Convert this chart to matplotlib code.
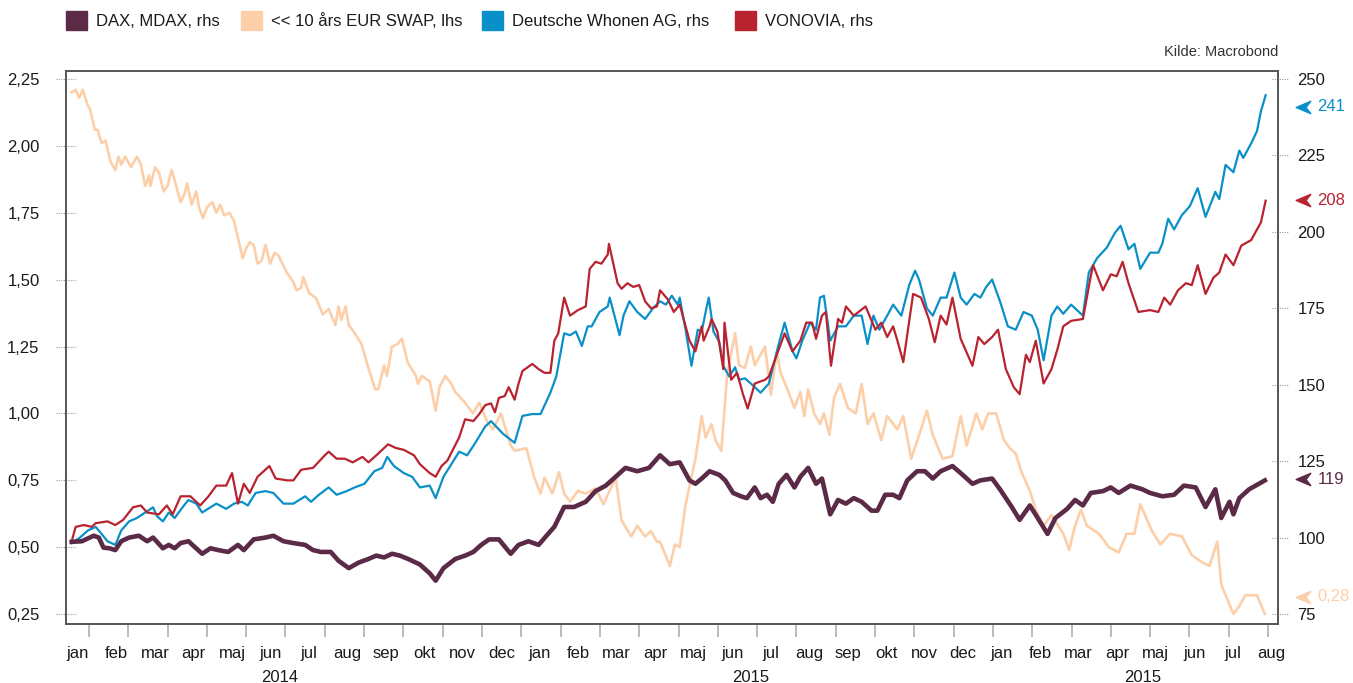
import numpy as np
import matplotlib.pyplot as plt
import matplotlib.transforms as mtransforms
from matplotlib.path import Path
from matplotlib.patches import Rectangle

plt.rcParams['font.family'] = ['Liberation Sans', 'DejaVu Sans']

# x = months since 1 jan 2014
swap = np.array([
    (0.56, 2.20), (0.66, 2.21), (0.75, 2.18), (0.84, 2.21), (0.97, 2.15), (1.02, 2.14), (1.15, 2.06), (1.22, 2.06),
    (1.32, 2.01), (1.42, 2.02), (1.55, 1.94), (1.67, 1.91), (1.75, 1.96), (1.82, 1.93), (1.92, 1.96), (2.07, 1.92),
    (2.22, 1.96), (2.32, 1.93), (2.43, 1.85), (2.53, 1.89), (2.56, 1.85), (2.68, 1.92), (2.78, 1.90), (2.90, 1.83),
    (3.00, 1.85), (3.10, 1.91), (3.20, 1.86), (3.33, 1.79), (3.43, 1.82), (3.50, 1.86), (3.61, 1.78), (3.73, 1.83),
    (3.80, 1.77), (3.90, 1.73), (4.00, 1.77), (4.14, 1.79), (4.24, 1.75), (4.34, 1.78), (4.44, 1.74), (4.57, 1.75),
    (4.69, 1.72), (4.91, 1.58), (5.01, 1.62), (5.09, 1.64), (5.19, 1.63), (5.29, 1.56), (5.39, 1.57), (5.49, 1.63),
    (5.61, 1.56), (5.72, 1.60), (5.82, 1.59), (6.02, 1.53), (6.20, 1.49), (6.28, 1.46), (6.40, 1.47), (6.45, 1.51),
    (6.60, 1.45), (6.78, 1.43), (6.95, 1.37), (7.10, 1.39), (7.27, 1.33), (7.35, 1.40), (7.42, 1.35), (7.53, 1.40),
    (7.61, 1.33), (7.76, 1.30), (7.93, 1.26), (8.09, 1.18), (8.28, 1.09), (8.36, 1.09), (8.51, 1.18), (8.58, 1.14),
    (8.71, 1.25), (8.86, 1.26), (8.96, 1.28), (9.11, 1.19), (9.32, 1.14), (9.37, 1.11), (9.47, 1.14), (9.67, 1.12),
    (9.82, 1.01), (9.92, 1.10), (10.07, 1.14), (10.22, 1.11), (10.32, 1.08), (10.57, 1.04), (10.77, 1.00), (10.93, 1.04),
    (11.13, 0.97), (11.28, 0.94), (11.48, 1.00), (11.73, 0.88), (11.83, 0.86), (12.13, 0.87), (12.33, 0.76), (12.49, 0.70),
    (12.59, 0.76), (12.79, 0.70), (12.96, 0.78), (13.09, 0.70), (13.24, 0.67), (13.44, 0.71), (13.64, 0.70), (13.89, 0.72),
    (14.09, 0.66), (14.40, 0.76), (14.55, 0.60), (14.80, 0.54), (14.95, 0.58), (15.15, 0.54), (15.30, 0.56), (15.45, 0.52),
    (15.53, 0.52), (15.78, 0.43), (15.91, 0.51), (16.03, 0.50), (16.18, 0.66), (16.43, 0.83), (16.59, 0.99), (16.69, 0.91),
    (16.84, 0.96), (16.94, 0.90), (17.09, 0.86), (17.24, 1.15), (17.44, 1.30), (17.54, 1.18), (17.69, 1.17), (17.84, 1.25),
    (17.94, 1.18), (18.20, 1.25), (18.35, 1.07), (18.50, 1.23), (18.60, 1.15), (18.80, 1.08), (18.95, 1.02), (19.10, 1.08),
    (19.20, 0.99), (19.30, 1.09), (19.45, 1.00), (19.60, 0.96), (19.70, 1.00), (19.84, 0.92), (19.96, 1.06), (20.11, 1.11),
    (20.31, 1.02), (20.51, 1.00), (20.66, 1.11), (20.81, 0.96), (20.96, 1.00), (21.16, 0.90), (21.31, 0.99), (21.57, 0.94),
    (21.72, 0.99), (21.92, 0.83), (22.17, 0.94), (22.32, 1.01), (22.47, 0.92), (22.72, 0.83), (22.97, 0.84), (23.18, 0.99),
    (23.33, 0.88), (23.58, 1.00), (23.73, 0.94), (23.88, 1.00), (24.08, 1.00), (24.28, 0.90), (24.43, 0.87), (24.58, 0.85),
    (24.73, 0.78), (24.94, 0.71), (25.09, 0.64), (25.29, 0.58), (25.49, 0.62), (25.79, 0.55), (25.94, 0.49), (26.09, 0.58),
    (26.24, 0.64), (26.39, 0.58), (26.70, 0.55), (26.95, 0.50), (27.20, 0.48), (27.40, 0.55), (27.60, 0.55), (27.75, 0.66),
    (28.05, 0.56), (28.26, 0.51), (28.51, 0.55), (28.81, 0.54), (29.06, 0.47), (29.36, 0.44), (29.51, 0.43), (29.71, 0.52),
    (29.81, 0.36), (30.12, 0.25), (30.27, 0.28), (30.42, 0.32), (30.72, 0.32), (30.92, 0.25),
])

dax = np.array([
    (0.56, 98.6), (0.82, 98.8), (1.12, 100.6), (1.25, 100.0), (1.37, 96.7), (1.52, 96.5), (1.67, 95.9), (1.82, 98.8),
    (2.02, 100.0), (2.27, 100.6), (2.48, 98.8), (2.63, 100.0), (2.88, 96.5), (3.03, 97.6), (3.18, 96.5), (3.33, 98.2),
    (3.53, 98.8), (3.88, 94.7), (4.09, 96.5), (4.29, 95.9), (4.54, 95.3), (4.79, 97.6), (4.94, 95.9), (5.19, 99.4),
    (5.49, 100.0), (5.69, 100.6), (5.95, 98.8), (6.20, 98.2), (6.50, 97.6), (6.70, 95.9), (6.90, 95.3), (7.15, 95.3),
    (7.35, 92.4), (7.61, 90.0), (7.86, 91.8), (8.11, 93.0), (8.31, 94.1), (8.51, 93.5), (8.71, 94.7), (8.91, 94.1),
    (9.12, 93.0), (9.42, 91.2), (9.67, 88.3), (9.82, 85.9), (10.02, 90.0), (10.32, 93.0), (10.57, 94.1), (10.78, 95.3),
    (10.98, 97.6), (11.18, 99.4), (11.43, 99.4), (11.73, 94.7), (11.93, 97.6), (12.18, 98.8), (12.44, 97.6), (12.64, 100.6),
    (12.84, 103.5), (13.09, 110.0), (13.34, 110.0), (13.64, 111.7), (13.89, 115.2), (14.15, 117.0), (14.35, 119.3), (14.65, 122.8),
    (14.95, 121.7), (15.25, 122.8), (15.53, 126.9), (15.78, 124.0), (16.03, 124.6), (16.28, 118.7), (16.43, 117.6), (16.59, 119.3),
    (16.79, 121.7), (17.04, 120.5), (17.19, 118.7), (17.39, 114.6), (17.59, 113.5), (17.74, 112.9), (17.94, 116.4), (18.09, 112.9),
    (18.25, 114.0), (18.40, 111.7), (18.55, 117.6), (18.75, 120.5), (18.95, 116.4), (19.10, 119.9), (19.30, 122.8), (19.50, 117.6),
    (19.65, 119.3), (19.86, 107.6), (20.06, 112.3), (20.26, 111.1), (20.46, 112.9), (20.66, 111.7), (20.91, 108.8), (21.06, 108.8),
    (21.26, 114.0), (21.46, 114.0), (21.62, 112.9), (21.82, 118.7), (22.07, 121.7), (22.27, 121.7), (22.47, 119.3), (22.67, 121.7),
    (22.97, 123.4), (23.18, 121.1), (23.48, 117.6), (23.68, 118.7), (23.98, 119.3), (24.18, 115.8), (24.48, 110.0), (24.68, 105.8),
    (24.94, 110.5), (25.14, 106.4), (25.39, 101.2), (25.59, 106.4), (25.89, 109.4), (26.09, 112.3), (26.29, 110.5), (26.49, 114.6),
    (26.80, 115.2), (27.00, 116.4), (27.20, 114.6), (27.50, 117.0), (27.80, 115.8), (28.00, 114.6), (28.31, 113.5), (28.61, 114.0),
    (28.86, 117.0), (29.16, 116.4), (29.41, 110.0), (29.66, 115.8), (29.81, 106.4), (30.02, 111.7), (30.12, 107.6), (30.27, 112.9),
    (30.52, 115.8), (30.77, 117.6), (30.92, 118.7),
])

dw = np.array([
    (0.56, 98.2), (0.77, 100.0), (0.97, 102.3), (1.17, 103.5), (1.32, 101.2), (1.47, 98.8), (1.67, 97.6), (1.82, 102.3),
    (2.02, 105.3), (2.22, 106.4), (2.43, 108.2), (2.63, 109.9), (2.73, 107.0), (2.88, 105.3), (3.03, 108.2), (3.18, 106.4),
    (3.38, 109.9), (3.53, 112.3), (3.73, 111.1), (3.88, 108.2), (4.09, 109.9), (4.24, 111.1), (4.49, 109.4), (4.69, 111.1),
    (4.89, 111.7), (5.04, 110.5), (5.24, 114.6), (5.49, 115.2), (5.69, 114.6), (5.95, 111.1), (6.20, 111.1), (6.50, 113.5),
    (6.65, 111.7), (6.85, 114.0), (7.10, 116.4), (7.30, 114.0), (7.56, 115.2), (7.76, 116.4), (8.01, 117.6), (8.26, 121.7),
    (8.46, 122.8), (8.59, 126.4), (8.76, 123.4), (9.01, 121.1), (9.22, 119.9), (9.42, 116.4), (9.67, 117.0), (9.82, 112.9),
    (10.02, 119.9), (10.22, 124.0), (10.42, 128.1), (10.62, 126.9), (10.83, 131.0), (11.08, 136.3), (11.23, 138.1), (11.53, 134.0),
    (11.83, 131.0), (12.03, 139.8), (12.28, 140.4), (12.49, 140.4), (12.74, 147.4), (12.89, 152.7), (13.09, 166.8), (13.24, 166.2),
    (13.39, 167.4), (13.54, 162.7), (13.69, 169.1), (13.79, 169.1), (13.99, 173.8), (14.20, 175.6), (14.25, 178.5), (14.50, 166.2),
    (14.60, 172.6), (14.75, 177.3), (14.95, 173.8), (15.15, 171.5), (15.35, 175.0), (15.53, 177.3), (15.68, 176.2), (15.83, 179.1),
    (15.98, 176.2), (16.03, 178.5), (16.18, 168.0), (16.33, 156.2), (16.49, 168.0), (16.59, 167.4), (16.69, 173.8), (16.77, 178.5),
    (16.89, 167.4), (17.04, 163.9), (17.14, 156.2), (17.29, 152.7), (17.44, 155.7), (17.54, 151.6), (17.69, 152.1), (17.84, 150.4),
    (18.09, 147.4), (18.30, 150.4), (18.55, 163.3), (18.70, 170.3), (18.90, 161.0), (19.00, 158.6), (19.15, 164.4), (19.35, 170.3),
    (19.50, 168.0), (19.60, 178.5), (19.70, 179.1), (19.86, 164.4), (20.06, 169.1), (20.26, 169.1), (20.46, 172.6), (20.66, 172.6),
    (20.81, 163.3), (20.96, 172.6), (21.11, 168.0), (21.31, 172.6), (21.46, 176.2), (21.67, 172.6), (21.87, 182.6), (22.02, 187.3),
    (22.12, 184.4), (22.32, 175.0), (22.47, 172.6), (22.67, 178.5), (22.82, 178.5), (23.02, 186.7), (23.18, 178.5), (23.33, 176.2),
    (23.53, 179.7), (23.68, 178.5), (23.83, 182.0), (23.98, 184.4), (24.18, 177.3), (24.38, 169.1), (24.58, 168.0), (24.78, 173.8),
    (24.99, 172.6), (25.14, 168.0), (25.29, 158.0), (25.49, 172.6), (25.64, 175.6), (25.79, 173.2), (25.99, 176.2), (26.29, 172.6),
    (26.44, 186.7), (26.65, 191.4), (26.90, 194.9), (27.10, 199.6), (27.25, 202.0), (27.45, 194.3), (27.60, 196.1), (27.75, 187.9),
    (28.00, 193.2), (28.21, 193.2), (28.31, 196.1), (28.46, 204.3), (28.61, 200.8), (28.81, 205.5), (29.01, 208.4), (29.21, 214.3),
    (29.41, 204.9), (29.66, 213.1), (29.76, 210.7), (29.92, 221.9), (30.12, 219.5), (30.27, 226.6), (30.37, 224.2), (30.57, 228.9),
    (30.72, 233.0), (30.82, 239.5), (30.94, 244.7),
])

vonovia = np.array([
    (0.56, 98.8), (0.66, 103.5), (0.87, 104.1), (1.07, 103.5), (1.17, 104.7), (1.47, 105.3), (1.67, 104.1), (1.87, 105.8),
    (2.12, 109.9), (2.32, 110.5), (2.48, 108.2), (2.78, 107.6), (2.98, 110.5), (3.13, 107.6), (3.33, 113.5), (3.58, 113.5),
    (3.83, 110.5), (4.04, 113.5), (4.24, 117.0), (4.49, 117.0), (4.64, 121.1), (4.79, 111.1), (4.94, 117.6), (5.09, 114.6),
    (5.29, 119.9), (5.59, 123.4), (5.75, 119.3), (6.05, 118.7), (6.20, 118.7), (6.40, 122.2), (6.70, 122.8), (7.00, 126.9),
    (7.10, 128.1), (7.30, 125.8), (7.51, 125.8), (7.71, 124.6), (7.96, 126.4), (8.11, 124.6), (8.31, 126.9), (8.61, 130.5),
    (8.81, 129.3), (9.01, 128.7), (9.27, 126.9), (9.42, 124.0), (9.67, 121.1), (9.82, 119.9), (9.97, 123.4), (10.12, 125.2),
    (10.42, 132.8), (10.57, 138.7), (10.78, 138.1), (10.93, 140.4), (11.08, 143.3), (11.23, 143.9), (11.33, 141.0), (11.43, 145.7),
    (11.58, 146.3), (11.68, 149.2), (11.83, 145.1), (11.93, 150.4), (12.03, 154.5), (12.28, 156.8), (12.44, 155.1), (12.59, 153.9),
    (12.74, 153.9), (12.84, 164.4), (12.94, 166.8), (13.09, 178.5), (13.24, 172.6), (13.44, 174.4), (13.64, 175.6), (13.74, 187.9),
    (13.89, 190.2), (14.04, 189.6), (14.20, 192.6), (14.23, 196.1), (14.45, 183.2), (14.55, 181.4), (14.70, 183.2), (14.85, 182.0),
    (15.00, 182.6), (15.15, 177.3), (15.30, 175.0), (15.45, 175.6), (15.53, 180.9), (15.73, 177.9), (15.88, 173.8), (16.03, 176.2),
    (16.18, 169.1), (16.28, 164.4), (16.43, 160.9), (16.59, 169.1), (16.64, 164.4), (16.79, 169.1), (16.84, 171.5), (16.99, 167.4),
    (17.14, 155.1), (17.17, 170.3), (17.34, 151.6), (17.49, 153.9), (17.64, 146.9), (17.76, 142.2), (17.94, 150.4), (18.20, 151.6),
    (18.30, 152.7), (18.45, 158.0), (18.70, 166.8), (18.90, 160.9), (19.10, 164.4), (19.25, 170.3), (19.40, 170.3), (19.50, 165.0),
    (19.65, 172.6), (19.75, 173.8), (19.88, 156.2), (20.06, 171.5), (20.16, 170.3), (20.26, 175.6), (20.46, 172.6), (20.76, 175.6),
    (21.01, 168.0), (21.16, 170.3), (21.31, 165.6), (21.46, 169.1), (21.57, 164.4), (21.72, 157.4), (21.97, 179.7), (22.17, 178.5),
    (22.37, 171.5), (22.52, 163.9), (22.67, 172.6), (22.82, 169.7), (22.97, 178.5), (23.18, 165.0), (23.48, 156.2), (23.63, 165.6),
    (23.78, 163.3), (23.98, 165.6), (24.13, 168.0), (24.33, 155.1), (24.53, 149.2), (24.68, 146.9), (24.84, 159.8), (24.94, 157.4),
    (25.09, 164.4), (25.29, 150.4), (25.49, 155.1), (25.64, 161.5), (25.79, 169.1), (25.99, 170.9), (26.29, 171.5), (26.49, 185.5),
    (26.55, 189.1), (26.80, 180.9), (27.00, 186.1), (27.15, 185.5), (27.30, 190.2), (27.45, 183.2), (27.70, 173.8), (28.00, 174.4),
    (28.21, 173.8), (28.36, 178.5), (28.51, 176.2), (28.71, 180.9), (28.91, 183.2), (29.06, 182.6), (29.21, 189.1), (29.41, 179.7),
    (29.61, 185.0), (29.76, 186.7), (29.92, 192.6), (30.12, 189.1), (30.32, 195.5), (30.57, 197.3), (30.72, 200.8), (30.82, 203.1),
    (30.94, 210.2),
])

month_names = ['jan', 'feb', 'mar', 'apr', 'maj', 'jun', 'jul', 'aug', 'sep', 'okt', 'nov', 'dec']
month_labels = month_names * 2 + month_names[:8]
year_labels = ['2014', '2015', '2015']
year_pos = [5.86, 17.84, 27.82]
left_ticks = [0.25, 0.50, 0.75, 1.00, 1.25, 1.50, 1.75, 2.00, 2.25]
right_ticks = [75, 100, 125, 150, 175, 200, 225, 250]

# end-of-series labels: text, shown value, nudge in points
end_labels = {'dax': ('119', 119, 0), 'swap': ('0,28', 0.28, 6.5),
              'dw': ('241', 241, 0), 'von': ('208', 208, 5)}

C_DAX = '#5B2A47'
C_SWAP = '#FDCFA9'
C_DW = '#0A90C8'
C_VON = '#B8232F'
SPINE = '#555555'
TXT = '#1a1a1a'
FS = 12

fig = plt.figure(figsize=(13.53, 6.83), dpi=100)
ax = fig.add_axes([66 / 1353, 1 - 624 / 683, 1212 / 1353, 553 / 683])
ax2 = ax.twinx()

ylo, yhi = 0.2126, 2.28
ax.set_ylim(ylo, yhi)
ax2.set_ylim(75 + (ylo - 0.25) * 87.5, 75 + (yhi - 0.25) * 87.5)
ax.set_xlim(0.415, 31.254)

ax.plot(swap[:, 0], swap[:, 1], color=C_SWAP, lw=1.9, solid_joinstyle='round')
ax2.plot(dw[:, 0], dw[:, 1], color=C_DW, lw=1.6, solid_joinstyle='round')
ax2.plot(vonovia[:, 0], vonovia[:, 1], color=C_VON, lw=1.6, solid_joinstyle='round')
ax2.plot(dax[:, 0], dax[:, 1], color=C_DAX, lw=3.3, solid_joinstyle='round')

for a in (ax, ax2):
    for s in a.spines.values():
        s.set_color(SPINE)
        s.set_linewidth(1.2)

# y ticks: labels only, dotted marks drawn by hand
ax.set_yticks(left_ticks)
ax.set_yticklabels([f'{v:.2f}'.replace('.', ',') for v in left_ticks])
ax.tick_params(axis='y', length=0, pad=19, labelsize=FS, labelcolor=TXT)
ax2.set_yticks(right_ticks)
ax2.set_yticklabels([str(v) for v in right_ticks])
ax2.tick_params(axis='y', length=0, pad=14, labelsize=FS, labelcolor=TXT)

tl = mtransforms.blended_transform_factory(ax.transAxes, ax.transData)
tr = mtransforms.blended_transform_factory(ax2.transAxes, ax2.transData)
for v in left_ticks:
    ax.plot([-0.0085, 0.0085], [v, v], transform=tl, color='#999999', lw=0.8,
            ls=(0, (1, 1.2)), clip_on=False)
for v in right_ticks:
    ax2.plot([0.995, 1.0085], [v, v], transform=tr, color='#999999', lw=0.8,
             ls=(0, (1, 1.2)), clip_on=False)

# x axis: month boundary ticks, month names in between
ax.set_xticks(np.arange(1, 32))
ax.set_xticklabels([])
ax.tick_params(axis='x', which='major', length=9, width=1.1, color='#aaaaaa', direction='out')
ax.set_xticks(np.linspace(0.72, 31.08, len(month_labels)), minor=True)
ax.set_xticklabels(month_labels, minor=True)
ax.tick_params(axis='x', which='minor', length=0, pad=16, labelsize=FS, labelcolor=TXT)
for lab, x in zip(year_labels, year_pos):
    ax.text(x, -0.096, lab, transform=ax.get_xaxis_transform(), ha='center', va='center',
            fontsize=FS, color=TXT)

# end value markers
chev = Path([(-1, 0), (1, 0.85), (0.35, 0), (1, -0.85), (-1, 0)],
            [Path.MOVETO, Path.LINETO, Path.LINETO, Path.LINETO, Path.CLOSEPOLY])
for key, col, a, tr_ in [('dw', C_DW, ax2, tr), ('von', C_VON, ax2, tr),
                         ('dax', C_DAX, ax2, tr), ('swap', C_SWAP, ax, tl)]:
    txt, val, nudge = end_labels[key]
    off = mtransforms.offset_copy(tr_, fig=fig, x=0, y=nudge, units='points')
    a.plot([1.0205], [val], transform=off, marker=chev, ms=10.5, color=col, clip_on=False)
    a.text(1.0325, val, txt, transform=off, ha='left', va='center', fontsize=FS, color=col)

# legend
legend = [('DAX, MDAX, rhs', C_DAX, 66), ('<< 10 års EUR SWAP, lhs', C_SWAP, 241),
          ('Deutsche Whonen AG, rhs', C_DW, 482), ('VONOVIA, rhs', C_VON, 735)]
for lab, col, x in legend:
    fig.patches.append(Rectangle((x / 1353, 1 - 30 / 683), 21 / 1353, 19 / 683,
                                 transform=fig.transFigure, color=col))
    fig.text((x + 30) / 1353, 1 - 21 / 683, lab, ha='left', va='center', fontsize=FS, color=TXT)

fig.text(1278 / 1353, 1 - 52 / 683, 'Kilde: Macrobond', ha='right', va='center', fontsize=10.5, color='#333333')

fig.savefig('out.png', dpi=100)
